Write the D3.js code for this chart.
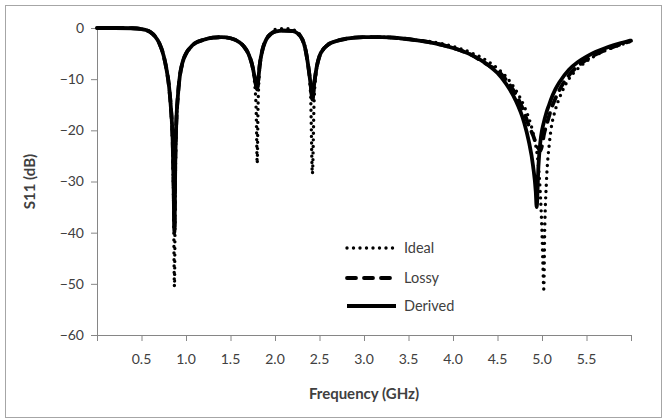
<!DOCTYPE html>
<html>
<head>
<meta charset="utf-8">
<script src="https://cdn.jsdelivr.net/npm/d3@7"></script>
<style>
  html, body { margin: 0; padding: 0; background: #fff; }
  svg { display: block; font-family: Lato, "Open Sans", sans-serif; }
</style>
</head>
<body>
<div id="chart"></div>
<script>
'use strict';

/*** Data */
/** Frequency (GHz) */
const freq = [
  0.00, 0.20, 0.40, 0.50, 0.55, 0.60, 0.65, 0.70, 0.75, 0.78,
  0.81, 0.83, 0.85, 0.86, 0.87, 0.88, 0.89, 0.91, 0.93, 0.96,
  1.00, 1.05, 1.10, 1.20, 1.30, 1.40, 1.50, 1.60, 1.65, 1.70,
  1.74, 1.77, 1.79, 1.80, 1.81, 1.83, 1.86, 1.90, 1.95, 2.00,
  2.10, 2.20, 2.25, 2.30, 2.34, 2.37, 2.40, 2.42, 2.44, 2.47,
  2.50, 2.55, 2.60, 2.70, 2.80, 3.00, 3.20, 3.40, 3.60, 3.80,
  4.00, 4.20, 4.40, 4.50, 4.60, 4.70, 4.80, 4.85, 4.90, 4.93,
  4.94, 4.96, 4.98, 5.00, 5.01, 5.02, 5.03, 5.05, 5.08, 5.10,
  5.15, 5.20, 5.30, 5.40, 5.50, 5.60, 5.70, 5.80, 5.90, 6.00
];

/** S11 (dB) per series */
const ideal = [
  0, 0, -0.05, -0.2, -0.4, -0.8, -1.6, -3.0, -5.5, -8.0,
  -11.5, -15.5, -24, -34, -50.5, -30, -20, -13, -9.5, -6.8,
  -5.0, -3.8, -3.0, -2.3, -1.9, -1.8, -2.0, -2.8, -3.6, -5.0,
  -7.0, -10.5, -17, -26.5, -15, -7.5, -4.2, -2.3, -1.2, -0.3,
  -0.1, -0.3, -0.8, -1.8, -3.8, -7.0, -13, -28.5, -14, -7.5,
  -5.5, -4.0, -3.2, -2.5, -2.1, -1.8, -1.8, -2.0, -2.4, -2.8,
  -3.6, -4.8, -6.6, -7.9, -9.6, -12, -15.3, -17.5, -20.5, -23,
  -24, -27, -32, -40, -46, -51, -40, -30, -23, -20,
  -16, -13.5, -10, -8, -6.5, -5.4, -4.5, -3.8, -3.2, -2.6
];

const lossy = [
  0, 0, -0.05, -0.2, -0.4, -0.8, -1.6, -3.0, -5.5, -8.0,
  -11.5, -15.5, -22, -29, -39, -25, -19, -13, -9.5, -6.8,
  -5.0, -3.8, -3.0, -2.3, -1.9, -1.8, -2.0, -2.8, -3.6, -5.0,
  -7.0, -9.5, -11.5, -12, -10.5, -7.0, -4.2, -2.3, -1.2, -0.7,
  -0.5, -0.6, -1.0, -2.0, -4.0, -7.0, -11, -14, -11, -7.5,
  -5.5, -4.0, -3.2, -2.5, -2.1, -1.8, -1.8, -2.0, -2.4, -3.0,
  -3.9, -5.2, -7.3, -8.3, -10.2, -12.8, -16.5, -19, -21, -22.5,
  -23, -23.5, -24, -23, -22, -21, -20.2, -19, -17.2, -16,
  -13.8, -12, -9.3, -7.5, -6.2, -5.2, -4.4, -3.7, -3.1, -2.5
];

const derived = [
  0, 0, -0.05, -0.2, -0.4, -0.8, -1.6, -3.0, -5.5, -8.0,
  -11.5, -15.5, -22, -30, -40, -26, -19, -13, -9.5, -6.8,
  -5.0, -3.8, -3.0, -2.3, -1.9, -1.8, -2.0, -2.8, -3.6, -5.0,
  -7.0, -9.5, -11.5, -12, -10.5, -7.0, -4.2, -2.3, -1.2, -0.7,
  -0.5, -0.6, -1.0, -2.0, -4.0, -7.0, -11, -14, -11, -7.5,
  -5.5, -4.0, -3.2, -2.5, -2.1, -1.8, -1.8, -2.0, -2.4, -3.0,
  -3.9, -5.2, -7.3, -8.8, -11, -14, -18.5, -22, -27, -32,
  -35, -27, -22.5, -20, -19.2, -18.5, -17.8, -16.5, -15, -14,
  -12, -10.5, -8.2, -6.7, -5.6, -4.7, -4.0, -3.4, -2.9, -2.4
];

/** Axis ticks */
const xTicks = [0, 0.5, 1.0, 1.5, 2.0, 2.5, 3.0, 3.5, 4.0, 4.5, 5.0, 5.5, 6.0];
const xLabels = [0.5, 1.0, 1.5, 2.0, 2.5, 3.0, 3.5, 4.0, 4.5, 5.0, 5.5];
const yTicks = [0, -10, -20, -30, -40, -50, -60];

const seriesNames = ['Ideal', 'Lossy', 'Derived'];

/*** Chart */
const w = 663;
const h = 419;
const plot = { left: 97, right: 631, top: 28, bottom: 335 };

const svg = d3.select('#chart')
  .append('svg')
  .attr('width', w)
  .attr('height', h);

/* Outer frame */
svg.append('rect')
  .attr('x', 5.5).attr('y', 5.5)
  .attr('width', 656).attr('height', 412)
  .attr('fill', '#fff')
  .attr('stroke', '#a6a6a6')
  .attr('stroke-width', 1);

const xScale = d3.scaleLinear().domain([0, 6]).range([plot.left, plot.right]);
const yScale = d3.scaleLinear().domain([-60, 0]).range([plot.bottom, plot.top]);

/* Axes */
const xAxis = d3.axisBottom(xScale).tickValues(xTicks).tickSize(6).tickFormat('');
const yAxis = d3.axisLeft(yScale).tickValues(yTicks).tickSize(6).tickFormat(d3.format('d'));

const gx = svg.append('g')
  .attr('transform', 'translate(0,' + plot.bottom + ')')
  .call(xAxis);
const gy = svg.append('g')
  .attr('transform', 'translate(' + plot.left + ',0)')
  .call(yAxis);

[gx, gy].forEach(g => {
  g.select('.domain').attr('stroke', '#868686').attr('stroke-width', 1);
  g.selectAll('.tick line').attr('stroke', '#868686');
});
gy.select('.domain').attr('d', 'M-6,' + (plot.bottom + 0.5) + 'H0.5V' + (plot.top - 0.5));
gx.select('.domain').attr('d', 'M' + (plot.left + 0.5) + ',6V0.5H' + (plot.right + 0.5) + 'V6');
gy.selectAll('.tick text')
  .attr('x', -13)
  .attr('fill', '#404040')
  .style('font-size', '14px')
  .style('font-family', 'Lato, sans-serif');

/* x tick labels (0 and 6.0 are left out, like the reference) */
svg.append('g').selectAll('text')
  .data(xLabels)
  .join('text')
  .attr('x', d => xScale(d))
  .attr('y', 359)
  .attr('dy', '0.35em')
  .attr('text-anchor', 'middle')
  .attr('fill', '#404040')
  .style('font-size', '14px')
  .text(d => d3.format('.1f')(d));

/* Axis titles */
svg.append('text')
  .attr('x', (plot.left + plot.right) / 2)
  .attr('y', 394)
  .attr('dy', '0.35em')
  .attr('text-anchor', 'middle')
  .attr('fill', '#404040')
  .style('font-size', '15px')
  .style('font-weight', 'bold')
  .text('Frequency (GHz)');

svg.append('text')
  .attr('transform', 'translate(30,' + ((plot.top + plot.bottom) / 2) + ') rotate(-90)')
  .attr('dy', '0.35em')
  .attr('text-anchor', 'middle')
  .attr('fill', '#404040')
  .style('font-size', '15px')
  .style('font-weight', 'bold')
  .text('S11 (dB)');

/* Lines */
const styles = {
  Ideal:   { width: 3.4, dash: '0,6.5', cap: 'round' },
  Lossy:   { width: 3.8, dash: '9,8', cap: 'round' },
  Derived: { width: 3.8, dash: null, cap: 'butt' }
};

const line = d3.line()
  .x(d => xScale(d[0]))
  .y(d => yScale(d[1]))
  .curve(d3.curveMonotoneX);

const seriesData = {
  Ideal: d3.zip(freq, ideal),
  Lossy: d3.zip(freq, lossy),
  Derived: d3.zip(freq, derived)
};

seriesNames.forEach(name => {
  const s = styles[name];
  svg.append('path')
    .datum(seriesData[name])
    .attr('d', line)
    .attr('fill', 'none')
    .attr('stroke', '#000')
    .attr('stroke-width', s.width)
    .attr('stroke-linecap', s.cap)
    .attr('stroke-linejoin', 'round')
    .attr('stroke-dasharray', s.dash);
});

/* Legend */
const legend = svg.append('g');
const legendY = [248, 278, 306];
seriesNames.forEach((name, i) => {
  const s = styles[name];
  legend.append('line')
    .attr('x1', 347).attr('x2', 396)
    .attr('y1', legendY[i]).attr('y2', legendY[i])
    .attr('stroke', '#000')
    .attr('stroke-width', s.width)
    .attr('stroke-linecap', s.cap)
    .attr('stroke-dasharray', s.dash);
  legend.append('text')
    .attr('x', 404)
    .attr('y', legendY[i])
    .attr('dy', '0.35em')
    .attr('fill', '#404040')
    .style('font-size', '14.5px')
    .text(name);
});
</script>
</body>
</html>
